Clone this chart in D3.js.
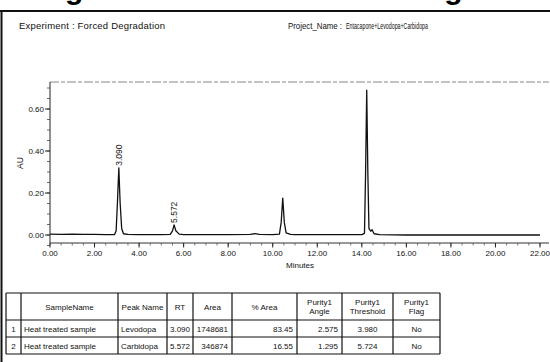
<!DOCTYPE html>
<html>
<head>
<meta charset="utf-8">
<script src="https://cdn.jsdelivr.net/npm/d3@7"></script>
<style>
  body { margin: 0; background: #fff; overflow: hidden; }
  svg { display: block; font-family: "Liberation Sans", Arial, sans-serif; }
</style>
</head>
<body>
<script>
// chromatogram trace: [minutes, AU]
var trace = [
  [0.00, 0.004], [0.50, 0.003], [1.00, 0.004], [1.50, 0.003], [2.00, 0.003],
  [2.50, 0.002], [2.90, 0.002], [2.97, 0.02], [3.03, 0.16], [3.09, 0.32],
  [3.15, 0.15], [3.22, 0.03], [3.30, 0.006], [3.50, 0.003], [4.00, 0.002],
  [4.50, 0.002], [5.00, 0.002], [5.40, 0.003], [5.50, 0.02], [5.572, 0.048],
  [5.65, 0.02], [5.80, 0.004], [6.00, 0.002], [7.00, 0.002], [8.00, 0.002],
  [9.00, 0.003], [9.20, 0.007], [9.40, 0.003], [10.00, 0.002], [10.30, 0.004],
  [10.38, 0.06], [10.45, 0.176], [10.52, 0.06], [10.60, 0.01], [10.80, 0.003],
  [11.00, 0.002], [12.00, 0.002], [13.00, 0.002], [14.00, 0.002], [14.12, 0.008],
  [14.17, 0.30], [14.22, 0.69], [14.27, 0.30], [14.32, 0.03], [14.40, 0.018],
  [14.46, 0.025], [14.55, 0.006], [14.80, 0.002], [16.00, 0.000], [18.00, 0.000],
  [20.00, 0.000], [22.00, 0.000]
]

var peakLabels = [[3.090, 0.32, "3.090"], [5.572, 0.048, "5.572"]]

var yTicks = [0.00, 0.20, 0.40, 0.60]
var xTicks = [0, 2, 4, 6, 8, 10, 12, 14, 16, 18, 20, 22]

var headLeft = "Experiment :  Forced Degradation"
var headRightKey = "Project_Name :"
var headRightVal = "Entacapone+Levodopa+Carbidopa"

var tableHead = ["", "SampleName", "Peak Name", "RT", "Area", "% Area", "Purity1\nAngle", "Purity1\nThreshold", "Purity1\nFlag"]
var tableRows = [
  ["1", "Heat treated sample", "Levodopa", "3.090", "1748681", "83.45", "2.575", "3.980", "No"],
  ["2", "Heat treated sample", "Carbidopa", "5.572", "346874", "16.55", "1.295", "5.724", "No"]
]

var width = 550
var height = 362

var svg = d3.select("body").append("svg")
            .attr("width", width)
            .attr("height", height)

// big caption of the page, cut off by the scan: only descenders show
svg.append("text")
   .attr("x", 38)
   .attr("y", -1)
   .attr("font-size", 30)
   .attr("font-weight", "bold")
   .attr("textLength", 480)
   .attr("lengthAdjust", "spacing")
   .text("Fig. 5 Heat Stress Chromatogram")

// page frame
svg.append("line").attr("x1", 0).attr("x2", width).attr("y1", 11).attr("y2", 11)
   .attr("stroke", "#111").attr("stroke-width", 2)
svg.append("line").attr("x1", 1.5).attr("x2", 1.5).attr("y1", 11).attr("y2", height)
   .attr("stroke", "#111").attr("stroke-width", 2)

svg.append("text").attr("x", 19).attr("y", 29).attr("font-size", 9.5)
   .attr("textLength", 146).attr("fill", "#111").text(headLeft)
svg.append("text").attr("x", 288).attr("y", 29).attr("font-size", 9)
   .attr("textLength", 54).attr("lengthAdjust", "spacingAndGlyphs").attr("fill", "#111").text(headRightKey)
svg.append("text").attr("x", 346).attr("y", 29).attr("font-size", 9)
   .attr("textLength", 82).attr("lengthAdjust", "spacingAndGlyphs").attr("fill", "#111").text(headRightVal)

// scales
var xScale = d3.scaleLinear().domain([0, 22]).range([50, 540])
var yScale = d3.scaleLinear().domain([0, 0.6]).range([235, 109])
var yBottom = 243
var yTop = 82

// top border of the plot, faint and broken
svg.append("line").attr("x1", 50).attr("x2", 549).attr("y1", yTop).attr("y2", yTop)
   .attr("stroke", "#888").attr("stroke-width", 1.2).attr("stroke-dasharray", "9,2,4,2")

// y axis
svg.append("line").attr("x1", 50).attr("x2", 50).attr("y1", yTop).attr("y2", yBottom)
   .attr("stroke", "#222").attr("stroke-width", 1)
var yMinor = d3.range(-0.05, 0.73, 0.05)
svg.selectAll(".yminor").data(yMinor).enter().append("line")
   .attr("x1", 47).attr("x2", 50)
   .attr("y1", function(d){ return yScale(d) }).attr("y2", function(d){ return yScale(d) })
   .attr("stroke", "#444").attr("stroke-width", 0.8)
svg.selectAll(".ymajor").data(yTicks).enter().append("line")
   .attr("x1", 45).attr("x2", 50)
   .attr("y1", function(d){ return yScale(d) }).attr("y2", function(d){ return yScale(d) })
   .attr("stroke", "#222").attr("stroke-width", 1)
svg.selectAll(".ylab").data(yTicks).enter().append("text")
   .attr("x", 44).attr("y", function(d){ return yScale(d) + 3 })
   .attr("text-anchor", "end").attr("font-size", 8).attr("fill", "#111")
   .text(function(d){ return d3.format(".2f")(d) })
svg.append("text").attr("transform", "translate(23,163) rotate(-90)")
   .attr("text-anchor", "middle").attr("font-size", 8.5).attr("fill", "#111").text("AU")

// x axis
svg.append("line").attr("x1", 50).attr("x2", 549).attr("y1", yBottom).attr("y2", yBottom)
   .attr("stroke", "#333").attr("stroke-width", 1)
var xMinor = d3.range(0, 22.1, 0.5)
svg.selectAll(".xminor").data(xMinor).enter().append("line")
   .attr("x1", function(d){ return xScale(d) }).attr("x2", function(d){ return xScale(d) })
   .attr("y1", yBottom).attr("y2", yBottom + 2.5)
   .attr("stroke", "#555").attr("stroke-width", 0.8)
svg.selectAll(".xmajor").data(xTicks).enter().append("line")
   .attr("x1", function(d){ return xScale(d) }).attr("x2", function(d){ return xScale(d) })
   .attr("y1", yBottom).attr("y2", yBottom + 4.5)
   .attr("stroke", "#222").attr("stroke-width", 1)
svg.selectAll(".xlab").data(xTicks).enter().append("text")
   .attr("x", function(d){ return xScale(d) }).attr("y", 256)
   .attr("text-anchor", "middle").attr("font-size", 8).attr("fill", "#111")
   .text(function(d){ return d3.format(".2f")(d) })
svg.append("text").attr("x", 300).attr("y", 268)
   .attr("text-anchor", "middle").attr("font-size", 8).attr("fill", "#111").text("Minutes")

// the trace
var line = d3.line()
             .x(function(d){ return xScale(d[0]) })
             .y(function(d){ return yScale(d[1]) })
svg.append("path").datum(trace)
   .attr("d", line)
   .attr("fill", "none")
   .attr("stroke", "#111")
   .attr("stroke-width", 1.3)
   .attr("stroke-linejoin", "round")

// peak labels
svg.selectAll(".plab").data(peakLabels).enter().append("text")
   .attr("transform", function(d){
      return "translate(" + (xScale(d[0]) + 3) + "," + (yScale(d[1]) - 2) + ") rotate(-90)"
   })
   .attr("font-size", 8.5).attr("fill", "#111")
   .text(function(d){ return d[2] })

// results table
var colX = [6, 21, 118, 167, 193, 232, 297, 342, 393, 440]
var rowY = [293, 320, 337, 354]
var tbl = svg.append("g")

tbl.selectAll(".hl").data(rowY).enter().append("line")
   .attr("x1", colX[0]).attr("x2", colX[colX.length - 1])
   .attr("y1", function(d){ return d }).attr("y2", function(d){ return d })
   .attr("stroke", "#111").attr("stroke-width", 1.2)
tbl.selectAll(".vl").data(colX).enter().append("line")
   .attr("x1", function(d){ return d }).attr("x2", function(d){ return d })
   .attr("y1", rowY[0]).attr("y2", rowY[rowY.length - 1])
   .attr("stroke", "#111").attr("stroke-width", 1.2)

tableHead.forEach(function(h, i){
  var cx = (colX[i] + colX[i + 1]) / 2
  var parts = h.split("\n")
  parts.forEach(function(p, j){
    var cy = parts.length == 1 ? 310 : 305 + j * 9
    tbl.append("text").attr("x", cx).attr("y", cy)
       .attr("text-anchor", "middle").attr("font-size", 8).attr("fill", "#111").text(p)
  })
})

// alignment per column: l = left, r = right, m = middle
var align = ["m", "l", "l", "m", "r", "r", "r", "m", "m"]
tableRows.forEach(function(row, r){
  var cy = rowY[r + 1] + 12
  row.forEach(function(v, i){
    var a = align[i]
    var tx = a == "l" ? colX[i] + 3 : (a == "r" ? colX[i + 1] - 4 : (colX[i] + colX[i + 1]) / 2)
    tbl.append("text").attr("x", tx).attr("y", cy)
       .attr("text-anchor", a == "l" ? "start" : (a == "r" ? "end" : "middle"))
       .attr("font-size", 8).attr("fill", "#111").text(v)
  })
})
</script>
</body>
</html>
